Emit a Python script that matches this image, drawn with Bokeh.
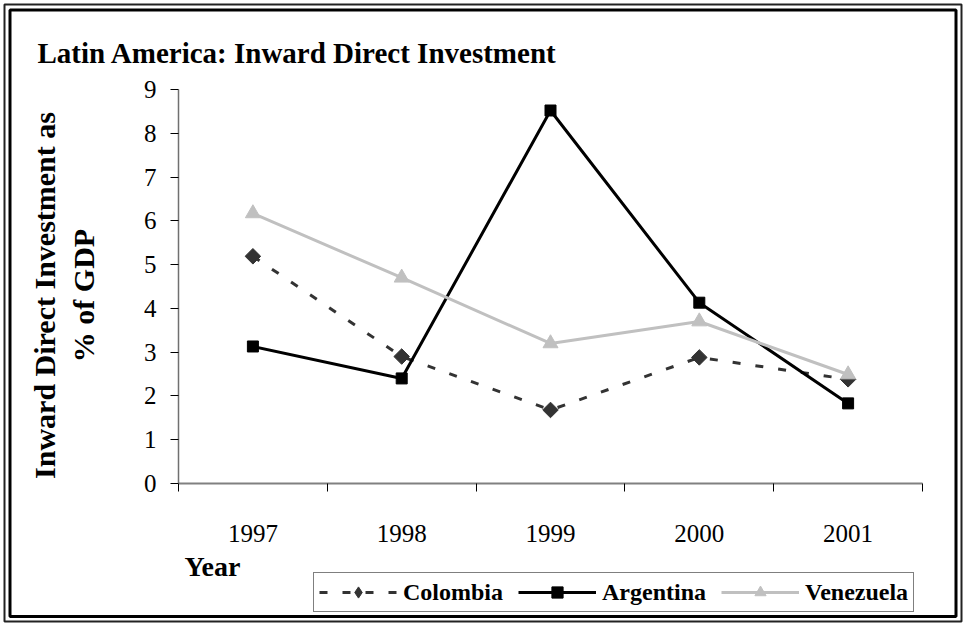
import numpy as np
from bokeh.plotting import figure
from bokeh.models import (Range1d, FixedTicker, Label, Legend, LegendItem,
                          LinearAxis, BoxAnnotation)
from bokeh.embed import file_html
from bokeh.resources import INLINE

# ---- data -------------------------------------------------------------
years = ["1997", "1998", "1999", "2000", "2001"]
colombia = [5.19, 2.90, 1.68, 2.88, 2.38]
argentina = [3.13, 2.40, 8.52, 4.13, 1.83]
venezuela = [6.17, 4.70, 3.20, 3.70, 2.49]
y_ticks = [0, 1, 2, 3, 4, 5, 6, 7, 8, 9]
title_text = "Latin America: Inward Direct Investment"
ylabel_line1 = "Inward Direct Investment as"
ylabel_line2 = "% of GDP"
xlabel_text = "Year"
series_names = ["Colombia", "Argentina", "Venezuela"]

FONT = "Liberation Serif"

# ---- geometry (page pixels of the reference) --------------------------
W, H = 964, 624
PA_L, PA_R, PA_T, PA_B = 178, 922, 89, 483     # plot area in page pixels

n = len(years)
xs = [i + 0.5 for i in range(n)]
ymax = y_ticks[-1]

ux = (PA_R - PA_L) / n
uy = (PA_B - PA_T) / ymax


def dx(px):
    return (px - PA_L) / ux


def dy(py):
    return (PA_B - py) / uy


p = figure(width=W, height=H,
           x_range=Range1d(dx(0), dx(W)), y_range=Range1d(dy(H), dy(0)),
           output_backend="svg", toolbar_location=None,
           x_axis_type=None, y_axis_type=None,
           min_border=0)
p.outline_line_color = None
p.background_fill_color = "white"
p.border_fill_color = "white"

# ---- axes (anchored at the plot-area edges) ---------------------------
xaxis = LinearAxis(fixed_location=0, bounds=(0, n),
                   ticker=FixedTicker(ticks=xs, minor_ticks=list(range(n + 1))),
                   major_label_overrides={x: y for x, y in zip(xs, years)})
xaxis.major_tick_out = 0
xaxis.major_tick_in = 0
xaxis.minor_tick_out = 8
xaxis.minor_tick_in = 0
xaxis.minor_tick_line_color = "black"
xaxis.axis_line_color = "#808080"
xaxis.axis_line_width = 2
xaxis.major_label_text_font = FONT
xaxis.major_label_text_font_size = "25px"
xaxis.major_label_text_color = "black"
xaxis.major_label_standoff = 33
p.add_layout(xaxis, "below")

yaxis = LinearAxis(fixed_location=0, bounds=(0, ymax),
                   ticker=FixedTicker(ticks=y_ticks))
yaxis.major_tick_out = 8
yaxis.major_tick_in = 0
yaxis.minor_tick_out = 0
yaxis.minor_tick_in = 0
yaxis.major_tick_line_color = "black"
yaxis.axis_line_color = "#707070"
yaxis.axis_line_width = 1.5
yaxis.major_label_text_font = FONT
yaxis.major_label_text_font_size = "25px"
yaxis.major_label_text_color = "black"
yaxis.major_label_standoff = 14
p.add_layout(yaxis, "left")

# ---- double frame round the whole chart --------------------------------
p.add_layout(BoxAnnotation(left=dx(4), right=dx(961), top=dy(4), bottom=dy(621),
                           fill_color=None, line_color="#222222", line_alpha=1,
                           line_width=2, level="overlay"))
p.add_layout(BoxAnnotation(left=dx(9.5), right=dx(955.5), top=dy(9.5), bottom=dy(616),
                           fill_color=None, line_color="black", line_alpha=1,
                           line_width=3, level="overlay"))

# ---- series ------------------------------------------------------------
c_line = p.line(xs, colombia, line_color="#333333", line_width=3, line_dash="8 15")
c_mark = p.scatter(xs, colombia, marker="square", angle=np.pi / 4, size=11,
                   fill_color="#333333", line_color="#333333")
# diamond used for the legend key (the legend draws markers unrotated)
c_key = p.scatter(xs, colombia, marker="diamond", size=16,
                  fill_color="#333333", line_color="#333333", visible=False)
a_line = p.line(xs, argentina, line_color="black", line_width=3)
a_mark = p.scatter(xs, argentina, marker="square", size=11,
                   fill_color="black", line_color="black")
v_line = p.line(xs, venezuela, line_color="#c0c0c0", line_width=3)
v_mark = p.scatter(xs, venezuela, marker="triangle", size=15,
                   fill_color="#c0c0c0", line_color="#c0c0c0")

legend = Legend(items=[
    LegendItem(label=series_names[0], renderers=[c_line, c_key]),
    LegendItem(label=series_names[1], renderers=[a_line, a_mark]),
    LegendItem(label=series_names[2], renderers=[v_line, v_mark]),
], orientation="horizontal", location=(313, H - 612), click_policy="none")
legend.label_text_font = FONT
legend.label_text_font_size = "24px"
legend.label_text_font_style = "bold"
legend.label_text_color = "black"
legend.glyph_width = 78
legend.glyph_height = 28
legend.label_standoff = 6
legend.spacing = 15
legend.padding = 5
legend.margin = 0
legend.border_line_color = "black"
legend.border_line_width = 1
legend.background_fill_color = "white"
legend.background_fill_alpha = 1
legend.inactive_fill_alpha = 0
p.add_layout(legend, "center")

# ---- texts -------------------------------------------------------------
p.add_layout(Label(x=dx(37), y=dy(52), text=title_text, text_font=FONT,
                   text_font_size="29px", text_font_style="bold",
                   text_align="left", text_baseline="alphabetic", text_color="black"))
p.add_layout(Label(x=dx(44), y=dy(295), text=ylabel_line1, angle=np.pi / 2,
                   text_font=FONT, text_font_size="30px", text_font_style="bold",
                   text_align="center", text_baseline="alphabetic", text_color="black"))
p.add_layout(Label(x=dx(83), y=dy(295), text=ylabel_line2, angle=np.pi / 2,
                   text_font=FONT, text_font_size="30px", text_font_style="bold",
                   text_align="center", text_baseline="alphabetic", text_color="black"))
p.add_layout(Label(x=dx(184), y=dy(566), text=xlabel_text, text_font=FONT,
                   text_font_size="28px", text_font_style="bold",
                   text_align="left", text_baseline="alphabetic", text_color="black"))

open("out.html", "w").write(file_html(p, INLINE))
